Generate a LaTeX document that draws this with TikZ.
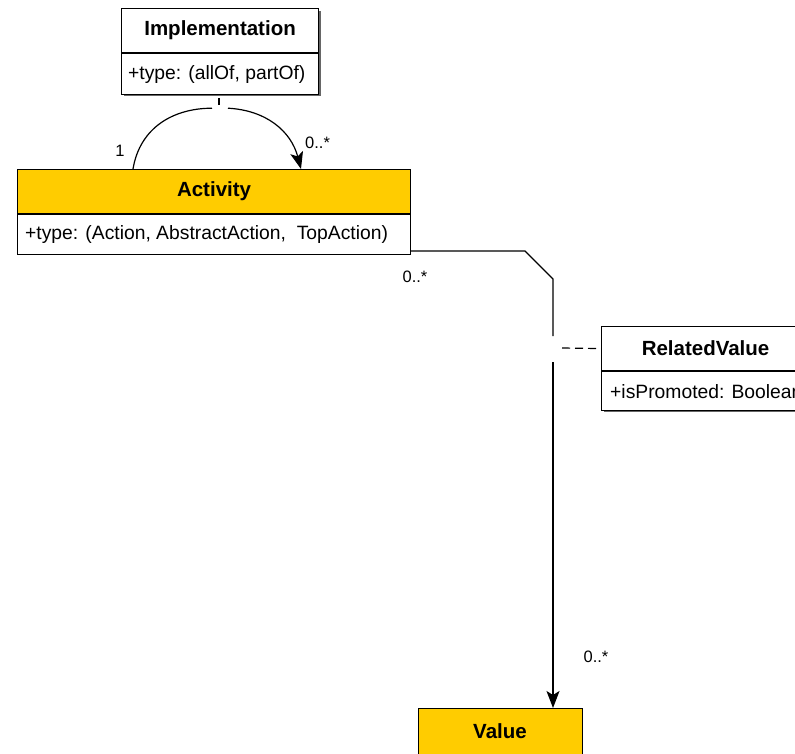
\documentclass[tikz,border=0pt]{standalone}
\usepackage{fontspec}
\setmainfont{Liberation Sans}
\usetikzlibrary{arrows.meta,calc,shadows}
\definecolor{umlyellow}{HTML}{FFCC00}
\begin{document}
\begin{tikzpicture}[x=1pt,y=1pt,
  box/.style={draw=black, line width=1.1pt, inner sep=0pt, anchor=north west},
  hdr/.style={box, minimum height=44pt, font=\fontsize{20.5}{22}\selectfont\bfseries},
  attr/.style={box, fill=white},
  atext/.style={anchor=west, inner sep=0pt, font=\fontsize{19.3}{22}\selectfont},
  mult/.style={inner sep=0pt, font=\fontsize{16.5}{20}\selectfont},
  assoc/.style={line width=1.2pt},
  tip/.style={-{Stealth[length=17pt,width=13pt,inset=4pt]}},
  shadowed/.style={drop shadow={shadow xshift=2pt, shadow yshift=-2pt, opacity=1, fill=black!60}}
]
\useasboundingbox (0,0) rectangle (795,-753);
\clip (0,0) rectangle (795,-753);

% Implementation
\node[box, shadowed, fill=white, minimum width=197pt, minimum height=85pt] (implF) at (121,-8) {};
\node[hdr, fill=white, minimum width=197pt] (implH) at (121,-8) {Implementation};
\node[attr, minimum width=197pt, minimum height=41pt] (implA) at (implH.south west) {};
\node[atext] (implT) at ($(implA.west)+(7,0)$) {+type: (allOf, partOf)};

% Activity
\node[hdr, fill=umlyellow, minimum width=393pt] (actH) at (17,-169) {Activity};
\node[attr, minimum width=393pt, minimum height=40pt] (actA) at (actH.south west) {};
\node[atext] (actT) at ($(actA.west)+(8,0)$) {+type: (Action, AbstractAction,\ \ TopAction)};

% RelatedValue
\node[box, shadowed, fill=white, minimum width=208pt, minimum height=83pt] (relF) at (601,-326) {};
\node[hdr, fill=white, minimum width=208pt] (relH) at (601,-326) {RelatedValue};
\node[attr, minimum width=208pt, minimum height=39pt] (relA) at (relH.south west) {};
\node[atext] (relT) at ($(relA.west)+(9,0)$) {+isPromoted: Boolean};

% Value
\node[hdr, fill=umlyellow, minimum width=164pt, minimum height=50pt] (valH) at (418,-708) {};
\node[inner sep=0pt, font=\fontsize{20.5}{22}\selectfont\bfseries] (valT) at (500,-731) {Value};

% self association with association class
\coordinate (sL) at ($(actH.north west)+(116,0)$);
\coordinate (sR) at ($(actH.north west)+(284,0)$);
\coordinate (gL) at ($(implA.south west)+(91,-13)$);
\coordinate (gR) at ($(implA.south west)+(107,-13)$);
\coordinate (tk1) at ($(implA.south west)+(98,-3)$);
\coordinate (tk2) at ($(implA.south west)+(98,-10)$);
\draw[assoc] (sL) .. controls ($(sL)+(7,42)$) and ($(gL)+(-38,0)$) .. (gL);
\draw[assoc, tip] (gR) .. controls ($(gR)+(38,-2)$) and ($(sR)+(-10,38)$) .. (sR);
\draw[assoc] (tk1) -- (tk2);
\node[mult] (m1) at (120,-151) {1};
\node[mult, anchor=west] (m2) at (305,-143) {0..*};

% Activity -> Value
\coordinate (b2) at (525,-251);
\coordinate (b1) at (b2 -| actA.east);
\coordinate (b3) at (553,-279);
\coordinate (b4) at (553,-336);
\coordinate (b5) at (553,-362);
\draw[assoc] (b1) -- (b2) -- (b3) -- (b4);
\draw[assoc, tip] (b5) -- (valH.north -| b5);
\coordinate (d1) at (562,-348);
\draw[assoc, dash pattern=on 8pt off 5pt] (d1) -- (relH.west);
\node[mult] (m3) at (415,-277) {0..*};
\node[mult] (m4) at (596,-657) {0..*};
\end{tikzpicture}
\end{document}
